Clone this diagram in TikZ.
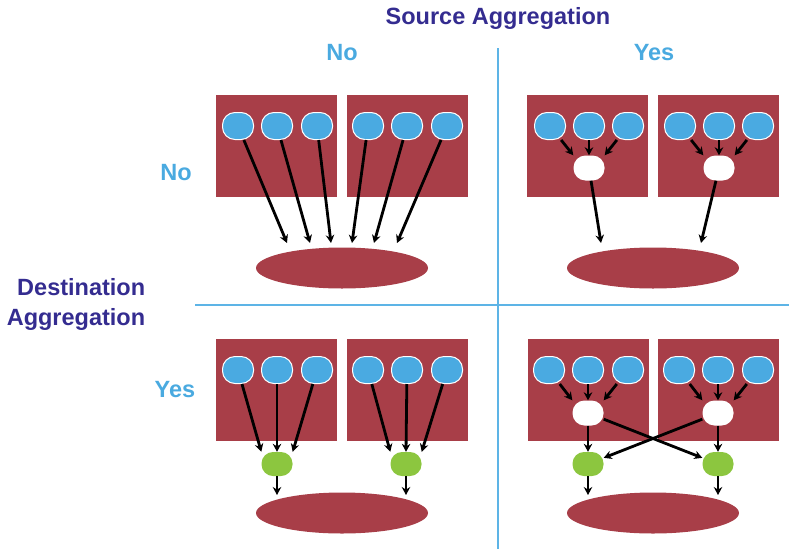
\documentclass[tikz,border=0pt]{standalone}
\usepackage{fontspec}
\setmainfont{Liberation Sans}
\usetikzlibrary{arrows.meta,shapes.geometric}
\definecolor{boxred}{RGB}{168,62,72}
\definecolor{srcblue}{RGB}{74,170,225}
\definecolor{dstgreen}{RGB}{140,198,63}
\definecolor{rule}{RGB}{93,180,230}
\definecolor{titlec}{RGB}{52,44,144}
\definecolor{labc}{RGB}{74,170,224}
\tikzset{
  hostbox/.style={fill=boxred,draw=none,minimum width=121pt,minimum height=102pt,inner sep=0pt},
  srcnode/.style={fill=srcblue,draw=white,line width=1pt,rounded corners=12.5pt,minimum width=31pt,minimum height=27pt,inner sep=0pt},
  aggnode/.style={fill=white,draw=none,rounded corners=12pt,minimum width=31pt,minimum height=25pt,inner sep=0pt},
  dstnode/.style={fill=dstgreen,draw=none,rounded corners=11.5pt,minimum width=31pt,minimum height=24pt,inner sep=0pt},
  sinknode/.style={ellipse,fill=boxred,draw=none,minimum width=172pt,minimum height=41pt,inner sep=0pt},
  flow/.style={-{Stealth[length=8pt,width=8.5pt]},line width=2.8pt,black},
  titlelab/.style={text=titlec,font=\bfseries\fontsize{23.5}{30}\selectfont},
  yesno/.style={text=labc,font=\bfseries\fontsize{23.5}{28}\selectfont},
  divider/.style={draw=rule,line width=1.2pt}
}
\begin{document}
\begin{tikzpicture}[x=1pt,y=-1pt]
\useasboundingbox (0,0) rectangle (789,549);
% labels
\node[titlelab] (title) at (498,18) {Source Aggregation};
\node[yesno] (colno) at (342,53) {No};
\node[yesno] (colyes) at (654,53) {Yes};
\node[yesno] (rowno) at (176,173) {No};
\node[yesno] (rowyes) at (175,390) {Yes};
\node[titlelab,align=right] (dest) at (76,304) {Destination\\Aggregation};
% dividers
\coordinate (vtop) at (498,48);
\coordinate (vbot) at (498,549);
\coordinate (hleft) at (195,305);
\coordinate (hright) at (789,305);
\draw[divider] (vtop) -- (vbot);
\draw[divider] (hleft) -- (hright);

% ===== Quadrant: No / No =====
\node[hostbox] (b11) at (276.5,146) {};
\node[hostbox] (b12) at (407,146) {};
\node[srcnode] (a1) at (238,126) {};
\node[srcnode] (a2) at (277,126) {};
\node[srcnode] (a3) at (317,126) {};
\node[srcnode] (a4) at (368,126) {};
\node[srcnode] (a5) at (407,126) {};
\node[srcnode] (a6) at (447,126) {};
\node[sinknode] (k1) at (342,268) {};
\coordinate (t1) at (287,243);
\coordinate (t2) at (310,243);
\coordinate (t3) at (331,243);
\coordinate (t4) at (352,243);
\coordinate (t5) at (374,243);
\coordinate (t6) at (397,243);
\draw[flow] (a1) -- (t1);
\draw[flow] (a2) -- (t2);
\draw[flow] (a3) -- (t3);
\draw[flow] (a4) -- (t4);
\draw[flow] (a5) -- (t5);
\draw[flow] (a6) -- (t6);

% ===== Quadrant: Yes / No =====
\node[hostbox] (b21) at (587.5,146) {};
\node[hostbox] (b22) at (718,146) {};
\node[srcnode] (c1) at (550,126) {};
\node[srcnode] (c2) at (589,126) {};
\node[srcnode] (c3) at (628,126) {};
\node[srcnode] (c4) at (680,126) {};
\node[srcnode] (c5) at (719,126) {};
\node[srcnode] (c6) at (758,126) {};
\node[aggnode] (g1) at (589,168) {};
\node[aggnode] (g2) at (719,168) {};
\node[sinknode] (k2) at (653,268) {};
\draw[flow] (c1) -- (g1.north west);
\draw[flow] (c2) -- (g1.north);
\draw[flow] (c3) -- (g1.north east);
\draw[flow] (c4) -- (g2.north west);
\draw[flow] (c5) -- (g2.north);
\draw[flow] (c6) -- (g2.north east);
\coordinate (u1) at (601,243);
\coordinate (u2) at (701,243);
\draw[flow] (g1) -- (u1);
\draw[flow] (g2) -- (u2);

% ===== Quadrant: No / Yes =====
\node[hostbox] (b31) at (276.5,390) {};
\node[hostbox] (b32) at (407,390) {};
\node[srcnode] (d1) at (238,370) {};
\node[srcnode] (d2) at (277,370) {};
\node[srcnode] (d3) at (317,370) {};
\node[srcnode] (d4) at (368,370) {};
\node[srcnode] (d5) at (407,370) {};
\node[srcnode] (d6) at (447,370) {};
\node[dstnode] (e1) at (277,464) {};
\node[dstnode] (e2) at (406,464) {};
\node[sinknode] (k3) at (342,513) {};
\draw[flow] (d1) -- (e1.north west);
\draw[flow] (d2) -- (e1.north);
\draw[flow] (d3) -- (e1.north east);
\draw[flow] (d4) -- (e2.north west);
\draw[flow] (d5) -- (e2.north);
\draw[flow] (d6) -- (e2.north east);
\coordinate (v1) at (277,495);
\coordinate (v2) at (406,495);
\draw[flow] (e1) -- (v1);
\draw[flow] (e2) -- (v2);

% ===== Quadrant: Yes / Yes =====
\node[hostbox] (b41) at (588,390) {};
\node[hostbox] (b42) at (718,390) {};
\node[srcnode] (f1) at (549,370) {};
\node[srcnode] (f2) at (588,370) {};
\node[srcnode] (f3) at (628,370) {};
\node[srcnode] (f4) at (679,370) {};
\node[srcnode] (f5) at (718,370) {};
\node[srcnode] (f6) at (758,370) {};
\node[aggnode] (h1) at (588,413) {};
\node[aggnode] (h2) at (718,413) {};
\node[dstnode] (m1) at (588,464) {};
\node[dstnode] (m2) at (718,464) {};
\node[sinknode] (k4) at (653,513) {};
\draw[flow] (f1) -- (h1.north west);
\draw[flow] (f2) -- (h1.north);
\draw[flow] (f3) -- (h1.north east);
\draw[flow] (f4) -- (h2.north west);
\draw[flow] (f5) -- (h2.north);
\draw[flow] (f6) -- (h2.north east);
\draw[flow] (h1) -- (m1);
\draw[flow] (h2) -- (m2);
\draw[flow] (h1) -- (m2);
\draw[flow] (h2) -- (m1);
\coordinate (w1) at (588,495);
\coordinate (w2) at (718,495);
\draw[flow] (m1) -- (w1);
\draw[flow] (m2) -- (w2);
\end{tikzpicture}
\end{document}
